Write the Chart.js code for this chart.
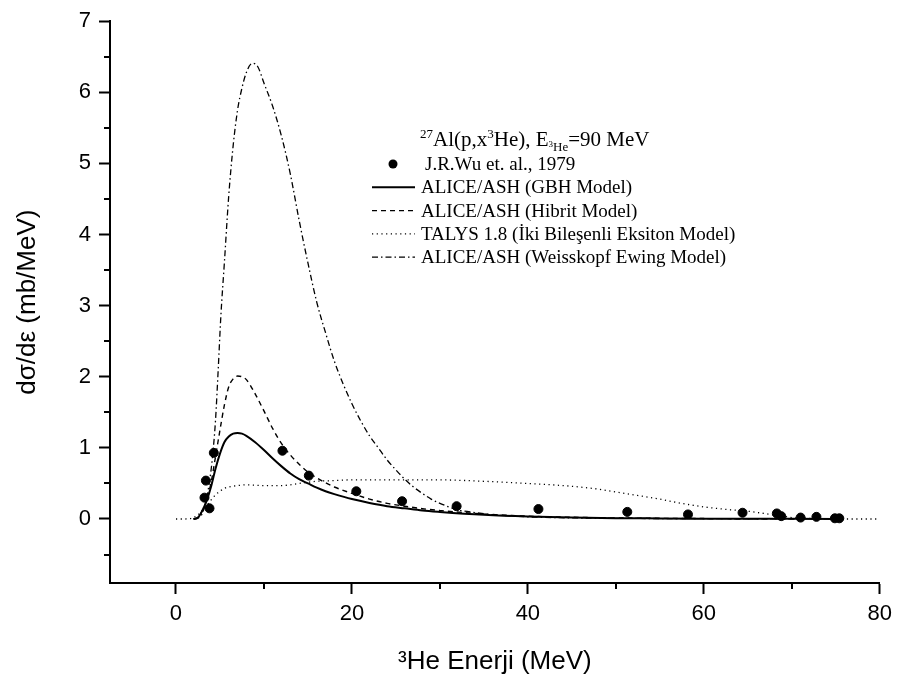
<!DOCTYPE html>
<html>
<head>
<meta charset="utf-8">
<script src="https://cdn.jsdelivr.net/npm/chart.js@4.4.0/dist/chart.umd.min.js"></script>
<style>
  html, body { margin: 0; padding: 0; background: #fff; }
</style>
</head>
<body>
<canvas id="chart" width="899" height="686"></canvas>
<script>
// datos experimentales (J.R.Wu 1979)
const wuE = [3.24, 3.40, 3.81, 4.30, 12.1, 15.1, 20.5, 25.7, 31.9, 41.2, 51.3, 58.2, 64.4, 68.3, 68.8, 71.0, 72.8, 74.9, 75.4];
const wuSigma = [0.30, 0.54, 0.15, 0.93, 0.96, 0.61, 0.39, 0.25, 0.18, 0.14, 0.10, 0.064, 0.088, 0.078, 0.04, 0.02, 0.03, 0.01, 0.01];

// ALICE/ASH (GBH)
const gbhE = [2, 2.5, 3, 3.5, 4, 4.5, 5, 5.5, 6, 6.5, 7, 7.5, 8, 9, 10, 11, 12, 13, 14, 15, 16, 17, 18, 20, 22, 24, 26, 28, 30, 35, 40, 45, 50, 55, 60, 65, 70, 75];
const gbhSigma = [0, 0.02, 0.12, 0.26, 0.46, 0.71, 0.92, 1.08, 1.16, 1.20, 1.21, 1.20, 1.17, 1.08, 0.97, 0.85, 0.74, 0.64, 0.56, 0.50, 0.44, 0.39, 0.35, 0.28, 0.225, 0.18, 0.15, 0.12, 0.10, 0.06, 0.035, 0.02, 0.012, 0.008, 0.005, 0.003, 0.002, 0.001];

// ALICE/ASH (Hibrit)
const hibE = [2, 2.5, 3, 3.5, 4, 4.5, 5, 5.5, 6, 6.5, 7, 7.5, 8, 9, 10, 11, 12, 13, 14, 15, 16, 17, 18, 20, 22, 24, 26, 28, 30, 35, 40, 45, 50, 60, 70, 75];
const hibSigma = [0, 0.02, 0.12, 0.27, 0.52, 0.88, 1.25, 1.6, 1.86, 1.97, 2.01, 2.0, 1.96, 1.76, 1.52, 1.27, 1.06, 0.9, 0.77, 0.66, 0.58, 0.51, 0.45, 0.36, 0.28, 0.22, 0.18, 0.145, 0.12, 0.07, 0.04, 0.025, 0.015, 0.006, 0.002, 0.001];

// TALYS 1.8
const talE = [0, 1, 2, 2.5, 3, 3.5, 4, 4.5, 5, 5.5, 6, 7, 8, 10, 12, 14, 16, 18, 20, 25, 30, 35, 40, 45, 48, 50, 52, 55, 57, 60, 63, 65, 67, 69, 70, 72, 74, 76, 80];
const talSigma = [0, 0, 0.02, 0.06, 0.12, 0.19, 0.27, 0.34, 0.39, 0.43, 0.45, 0.47, 0.48, 0.47, 0.47, 0.5, 0.53, 0.54, 0.55, 0.55, 0.55, 0.53, 0.5, 0.46, 0.42, 0.38, 0.34, 0.28, 0.23, 0.17, 0.13, 0.11, 0.075, 0.04, 0.02, 0.01, 0.003, 0, 0];

// ALICE/ASH (Weisskopf Ewing)
const weE = [2, 2.5, 3, 3.5, 4, 4.25, 4.5, 4.8, 5.1, 5.5, 6, 6.5, 7, 7.5, 8, 8.7, 9.3, 10, 11, 12, 13, 14, 15, 16, 17, 18, 19, 20, 21, 22, 23, 24, 25, 26, 27, 28, 29, 30, 32, 34, 36, 40, 50, 60, 70, 75];
const weSigma = [0, 0.01, 0.08, 0.3, 0.7, 1.0, 1.4, 2.1, 2.85, 3.6, 4.55, 5.25, 5.75, 6.06, 6.28, 6.41, 6.36, 6.13, 5.8, 5.38, 4.85, 4.2, 3.6, 3.05, 2.62, 2.22, 1.9, 1.62, 1.38, 1.17, 1.0, 0.83, 0.69, 0.56, 0.45, 0.36, 0.28, 0.22, 0.13, 0.09, 0.06, 0.03, 0.01, 0.005, 0.002, 0.001];

// ejes
const xTicks = [0, 10, 20, 30, 40, 50, 60, 70, 80];
const xLabeled = [0, 20, 40, 60, 80];
const yTicks = [-0.5, 0, 0.5, 1, 1.5, 2, 2.5, 3, 3.5, 4, 4.5, 5, 5.5, 6, 6.5, 7];

const legendRows = [
  { label: 'J.R.Wu et. al., 1979', kind: 'point' },
  { label: 'ALICE/ASH (GBH Model)', kind: 'line', dash: [], width: 2 },
  { label: 'ALICE/ASH (Hibrit Model)', kind: 'line', dash: [5, 4], width: 1.4 },
  { label: 'TALYS 1.8 (İki Bileşenli Eksiton Model)', kind: 'line', dash: [1.2, 3.5], width: 1.3 },
  { label: 'ALICE/ASH (Weisskopf Ewing Model)', kind: 'line', dash: [6, 3, 1.5, 3], width: 1.3 }
];

const toXY = (xs, ys) => xs.map((v, i) => ({ x: v, y: ys[i] }));

const SANS = '"Liberation Sans", Arial, sans-serif';
const SERIF = '"Liberation Serif", "Times New Roman", serif';

function lineSet(label, xs, ys, dash, width) {
  return {
    label: label,
    data: toXY(xs, ys),
    showLine: true,
    borderColor: '#000',
    borderWidth: width,
    borderDash: dash,
    pointRadius: 0,
    cubicInterpolationMode: 'monotone',
    fill: false
  };
}

const minorTicks = {
  id: 'minorTicks',
  afterDraw(chart) {
    const { ctx, chartArea, scales: { x, y } } = chart;
    ctx.save();
    ctx.strokeStyle = '#000';
    ctx.lineWidth = 2;
    xTicks.filter(v => !xLabeled.includes(v)).forEach(v => {
      const px = Math.round(x.getPixelForValue(v));
      ctx.beginPath();
      ctx.moveTo(px, chartArea.bottom);
      ctx.lineTo(px, chartArea.bottom + 6);
      ctx.stroke();
    });
    yTicks.filter(v => !Number.isInteger(v)).forEach(v => {
      const py = Math.round(y.getPixelForValue(v));
      ctx.beginPath();
      ctx.moveTo(chartArea.left, py);
      ctx.lineTo(chartArea.left - 6, py);
      ctx.stroke();
    });
    ctx.restore();
  }
};

// texto con super/subindices
function drawRich(ctx, parts, x, y) {
  let cx = x;
  parts.forEach(p => {
    ctx.font = p.size + 'px ' + SERIF;
    ctx.fillText(p.t, cx, y + (p.dy || 0));
    cx += ctx.measureText(p.t).width;
  });
}

const legendBox = {
  id: 'legendBox',
  afterDraw(chart) {
    const ctx = chart.ctx;
    ctx.save();
    ctx.fillStyle = '#000';
    ctx.textBaseline = 'alphabetic';
    drawRich(ctx, [
      { t: '27', size: 13, dy: -8 },
      { t: 'Al(p,x', size: 21 },
      { t: '3', size: 13, dy: -8 },
      { t: 'He), E', size: 21 },
      { t: '3', size: 9, dy: 1 },
      { t: 'He', size: 13, dy: 5 },
      { t: '=90 MeV', size: 21 }
    ], 420, 146);

    const x0 = 372, x1 = 415, tx = 421;
    let ry = 164;
    legendRows.forEach(r => {
      if (r.kind === 'point') {
        ctx.beginPath();
        ctx.arc(393, ry, 4.5, 0, Math.PI * 2);
        ctx.fill();
      } else {
        ctx.strokeStyle = '#000';
        ctx.lineWidth = r.width;
        ctx.setLineDash(r.dash);
        ctx.beginPath();
        ctx.moveTo(x0, ry);
        ctx.lineTo(x1, ry);
        ctx.stroke();
        ctx.setLineDash([]);
      }
      ctx.font = '19px ' + SERIF;
      ctx.textBaseline = 'middle';
      ctx.fillText(r.label, r.kind === 'point' ? tx + 4 : tx, ry + 1);
      ry += 23.3;
    });
    ctx.restore();
  }
};

new Chart(document.getElementById('chart'), {
  type: 'scatter',
  data: {
    datasets: [
      {
        label: 'J.R.Wu et. al., 1979',
        data: toXY(wuE, wuSigma),
        backgroundColor: '#000',
        borderColor: '#000',
        pointRadius: 4.5,
        showLine: false
      },
      lineSet('ALICE/ASH (GBH Model)', gbhE, gbhSigma, [], 2),
      lineSet('ALICE/ASH (Hibrit Model)', hibE, hibSigma, [5, 4], 1.4),
      lineSet('TALYS 1.8 (İki Bileşenli Eksiton Model)', talE, talSigma, [1.2, 3.5], 1.3),
      lineSet('ALICE/ASH (Weisskopf Ewing Model)', weE, weSigma, [6, 3, 1.5, 3], 1.3)
    ]
  },
  options: {
    responsive: false,
    animation: false,
    devicePixelRatio: 1,
    layout: { padding: { top: 13, right: 16, left: 0, bottom: 0 } },
    plugins: { legend: { display: false }, tooltip: { enabled: false } },
    scales: {
      x: {
        type: 'linear',
        min: -7.5,
        max: 80,
        afterBuildTicks: s => { s.ticks = xTicks.map(v => ({ value: v })); },
        afterFit: s => { s.height = 103; },
        ticks: {
          autoSkip: false,
          maxRotation: 0,
          padding: 7,
          color: '#000',
          font: { family: SANS, size: 22 },
          callback: v => xLabeled.includes(v) ? String(v) : ''
        },
        grid: {
          drawOnChartArea: false,
          tickLength: 11,
          tickWidth: 2,
          tickColor: c => (c.tick && xLabeled.includes(c.tick.value)) ? '#000' : 'rgba(0,0,0,0)'
        },
        border: { color: '#000', width: 2 },
        title: {
          display: true,
          text: '³He Enerji (MeV)',
          color: '#000',
          font: { family: SANS, size: 26 },
          padding: { top: 0, bottom: 9 }
        }
      },
      y: {
        type: 'linear',
        min: -0.9,
        max: 7,
        afterBuildTicks: s => { s.ticks = yTicks.map(v => ({ value: v })); },
        afterFit: s => { s.width = 110; },
        ticks: {
          autoSkip: false,
          padding: 8,
          color: '#000',
          font: { family: SANS, size: 22 },
          callback: v => Number.isInteger(v) ? String(v) : ''
        },
        grid: {
          drawOnChartArea: false,
          tickLength: 11,
          tickWidth: 2,
          tickColor: c => (c.tick && Number.isInteger(c.tick.value)) ? '#000' : 'rgba(0,0,0,0)'
        },
        border: { color: '#000', width: 2 },
        title: {
          display: true,
          text: 'dσ/dε (mb/MeV)',
          color: '#000',
          font: { family: SANS, size: 26 },
          padding: { top: 12, bottom: 0 }
        }
      }
    }
  },
  plugins: [minorTicks, legendBox]
});
</script>
</body>
</html>
